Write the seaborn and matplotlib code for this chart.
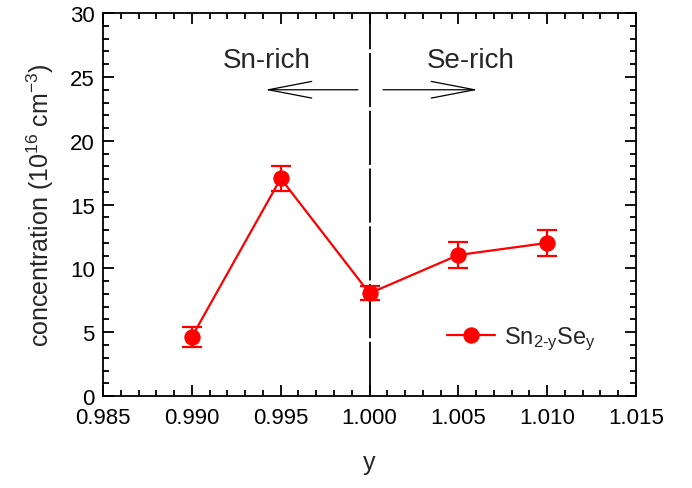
import matplotlib
matplotlib.use("Agg")
import matplotlib.pyplot as plt
from matplotlib.ticker import MultipleLocator, FormatStrFormatter
import seaborn as sns
import pandas as pd

# Carrier concentration of Sn(2-y)Se(y) versus composition y
y_comp = [0.990, 0.995, 1.000, 1.005, 1.010]
conc = [4.65, 17.05, 8.05, 11.05, 12.0]
conc_err = [0.8, 1.0, 0.55, 1.0, 1.0]
series_label = r"Sn$_{2\text{-}y}$Se$_{y}$"

sns.set_theme(style="ticks")
plt.rcParams["font.family"] = ["Liberation Sans", "DejaVu Sans"]
plt.rcParams["mathtext.fontset"] = "custom"
plt.rcParams["mathtext.rm"] = "Liberation Sans"
plt.rcParams["mathtext.it"] = "Liberation Sans"

df = pd.DataFrame({"y": y_comp, "c": conc, "err": conc_err})

fig = plt.figure(figsize=(6.92, 4.89), dpi=100)
ax = fig.add_axes([0.149, 0.188, 0.770, 0.783])

red = "#ff0000"
ax.errorbar(df["y"], df["c"], yerr=df["err"], fmt="none", ecolor=red,
            elinewidth=1.6, capsize=7, capthick=1.6, zorder=3)
sns.lineplot(data=df, x="y", y="c", ax=ax, color=red, linewidth=1.6,
             marker="o", markersize=11, markeredgecolor=red,
             markerfacecolor=red, label=series_label, zorder=4)

# composition boundary
ax.axvline(1.000, color="black", linewidth=1.3, dashes=(30, 2), zorder=2)

# direction arrows and labels
head = "->,head_length=2.6,head_width=0.5"
ax.annotate("", xy=(0.99412, 24.0), xytext=(0.99935, 24.0),
            arrowprops=dict(arrowstyle=head, color="black", lw=0.9,
                            shrinkA=0, shrinkB=0))
ax.annotate("", xy=(1.00610, 24.0), xytext=(1.00076, 24.0),
            arrowprops=dict(arrowstyle=head, color="black", lw=0.9,
                            shrinkA=0, shrinkB=0))
ax.text(0.99423, 26.3, "Sn-rich", ha="center", va="center", fontsize=20)
ax.text(1.00571, 26.3, "Se-rich", ha="center", va="center", fontsize=20)

ax.set_xlim(0.985, 1.015)
ax.set_ylim(0, 30)
ax.xaxis.set_major_locator(MultipleLocator(0.005))
ax.xaxis.set_minor_locator(MultipleLocator(0.001))
ax.yaxis.set_major_locator(MultipleLocator(5))
ax.yaxis.set_minor_locator(MultipleLocator(1))
ax.xaxis.set_major_formatter(FormatStrFormatter("%.3f"))

ax.tick_params(which="both", direction="in", top=True, right=True,
               labelsize=16, colors="black", width=1.3)
ax.tick_params(axis="x", pad=8)
ax.tick_params(axis="y", pad=6)
ax.tick_params(which="major", length=8)
ax.tick_params(which="minor", length=4)
for sp in ax.spines.values():
    sp.set_linewidth(1.3)
    sp.set_color("black")

ax.set_xlabel("y", fontsize=18, labelpad=16)
ax.set_ylabel(r"concentration (10$^{16}$ cm$^{-3}$)", fontsize=18, labelpad=10)

leg = ax.legend(loc="lower right", bbox_to_anchor=(0.965, 0.06), frameon=False,
                fontsize=17, handlelength=2.0, handletextpad=0.4)

fig.savefig("out.png", dpi=100)
